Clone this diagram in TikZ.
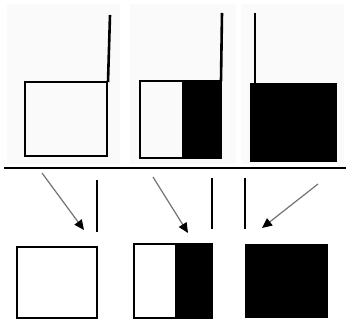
\documentclass[tikz,border=0pt]{standalone}
\usetikzlibrary{arrows.meta}
\begin{document}
\begin{tikzpicture}[x=1pt,y=-1pt,
  thick line/.style={line width=2.6pt,black},
  panelbg/.style={fill=black!2,draw=none},
  pointer/.style={line width=1.2pt,black!55,-{Triangle[length=10pt,width=9pt,black]}}]
\useasboundingbox[fill=white] (0,0) rectangle (346,320);
% top panel backgrounds
\fill[panelbg] (7,4) rectangle (120,164);
\fill[panelbg] (130,4) rectangle (236,164);
\fill[panelbg] (241,4) rectangle (344,164);
% top panel 1
\draw[thick line] (25,82) rectangle (107,156);
\draw[thick line] (110,15) -- (108,82);
% top panel 2
\fill[black] (182,81) rectangle (221,158);
\draw[thick line] (140,81) rectangle (221,158);
\draw[thick line] (222,13) -- (221,81);
% top panel 3
\fill[black] (250,83) rectangle (337,162);
\draw[thick line] (255,13) -- (255,83);
% separator
\draw[line width=2.8pt] (4,168) -- (346,168);
% bottom panel 1
\coordinate (a1s) at (42,173);
\coordinate (a1e) at (84,230);
\draw[pointer] (a1s) -- (a1e);
\draw[thick line] (97,180) -- (97,232);
\draw[thick line] (17,247) rectangle (97,318);
% bottom panel 2
\coordinate (a2s) at (153,177);
\coordinate (a2e) at (188,233);
\draw[pointer] (a2s) -- (a2e);
\draw[thick line] (212,178) -- (212,229);
\fill[black] (175,244) rectangle (212,318);
\draw[thick line] (134,244) rectangle (212,318);
% bottom panel 3
\draw[thick line] (245,178) -- (245,229);
\coordinate (a3s) at (318,184);
\coordinate (a3e) at (262,228);
\draw[pointer] (a3s) -- (a3e);
\fill[black] (245,244) rectangle (328,318);
\end{tikzpicture}
\end{document}
